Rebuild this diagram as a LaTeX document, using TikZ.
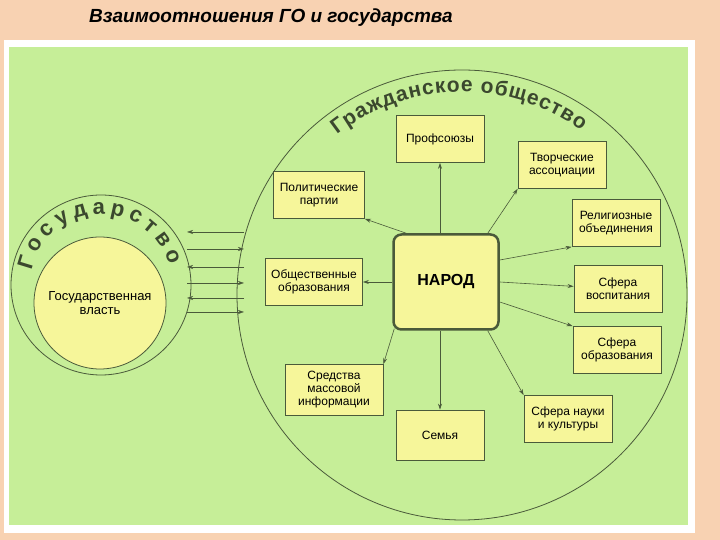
\documentclass[tikz,border=0pt]{standalone}
\usepackage{fontspec}
\setmainfont{Liberation Sans}
\usetikzlibrary{decorations.text,arrows.meta}
\definecolor{peach}{HTML}{F8D2B2}
\definecolor{grn}{HTML}{C6EE98}
\definecolor{ylw}{HTML}{F6F69A}
\definecolor{edge}{HTML}{4A5A3A}
\tikzset{
 box/.style={draw=edge,fill=ylw,line width=0.8pt,minimum width=88pt,minimum height=47pt,align=center,font=\fontsize{12}{13}\selectfont,inner sep=2pt},
 link/.style={draw=edge,line width=0.6pt,-{Stealth[length=6pt,width=4pt]}},
 ring/.style={draw=edge,line width=0.8pt}
}
\begin{document}
\begin{tikzpicture}[x=1pt,y=1pt]
\useasboundingbox (0,0) rectangle (720,540);
\fill[peach] (0,0) rectangle (720,540);
\fill[white] (4,7) rectangle (695,500);
\fill[grn] (9,15) rectangle (688,493);
\node[font=\fontsize{19}{21}\selectfont\bfseries\itshape] (title) at (271,522) {Взаимоотношения ГО и государства};
% civil society circle
\begin{scope}
\clip (9,15) rectangle (688,493);
\node[circle,ring,minimum size=450pt] (gs) at (462,245) {};
\end{scope}
\path[decorate,decoration={text along path,text align=fit to path,
 text={|\fontsize{21}{23}\selectfont\bfseries\color{edge!80!black}|Гражданское общество}}]
 (462,245) ++(128:203) arc[start angle=128,end angle=54,radius=203];
% state circles
\node[circle,ring,minimum size=180pt] (st) at (101,255) {};
\node[circle,ring,fill=ylw,minimum size=132pt,align=center,font=\fontsize{13}{14}\selectfont] (vl) at (100,237) {Государственная\\власть};
\path[decorate,decoration={text along path,text align=fit to path,
 text={|\fontsize{22}{24}\selectfont\bfseries\color{edge!80!black}|Государство}}]
 (101,255) ++(168:71) arc[start angle=168,end angle=16,radius=71];
% exchange arrows
\foreach \y/\d in {308/l,291/r,273/l,257/r,242/l,228/r}{
 \coordinate (a\y) at (187,\y);
 \coordinate (b\y) at (244,\y);
 \if\d l \draw[link,line width=0.5pt] (b\y) -- (a\y); \else \draw[link,line width=0.5pt] (a\y) -- (b\y); \fi
}
% people
\node[draw=edge,fill=ylw,line width=2.5pt,rounded corners=8pt,minimum width=105pt,minimum height=95pt,font=\fontsize{16}{17}\selectfont\bfseries] (nar) at (446,258) {НАРОД};
\node[box] (prof) at (440,401) {Профсоюзы};
\node[box] (tvor) at (562,375) {Творческие\\ассоциации};
\node[box,minimum width=91pt] (pol) at (319,345) {Политические\\партии};
\node[box] (rel) at (616,317) {Религиозные\\объединения};
\node[box,minimum width=97pt] (obs) at (314,258) {Общественные\\образования};
\node[box] (vos) at (618,251) {Сфера\\воспитания};
\node[box] (obr) at (617,190) {Сфера\\образования};
\node[box,minimum width=98pt,minimum height=51pt] (smi) at (334,150) {Средства\\массовой\\информации};
\node[box,minimum height=50pt] (sem) at (440,105) {Семья};
\node[box] (nau) at (568,121) {Сфера науки\\и культуры};
\draw[link] (nar.north -| prof) -- (prof);
\draw[link] (nar.north east) ++(-12,0) -- (tvor.south west);
\draw[link] (nar.north west) ++(14,0) -- (pol.south east);
\draw[link] (nar.east) ++(0,22) -- (rel.south west);
\draw[link] (nar.west) -- (obs);
\draw[link] (nar.east) -- (vos);
\draw[link] (nar.east) ++(0,-20) -- (obr.north west);
\draw[link] (nar.south west) ++(2,2) -- (smi.north east);
\draw[link] (nar.south -| sem) -- (sem);
\draw[link] (nar.south east) ++(-12,0) -- (nau.north west);
\end{tikzpicture}
\end{document}
